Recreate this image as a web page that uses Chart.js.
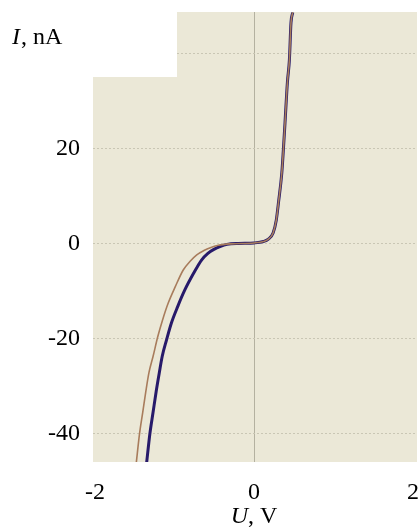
<!DOCTYPE html>
<html>
<head>
<meta charset="utf-8">
<script src="https://cdn.jsdelivr.net/npm/chart.js@4"></script>
<style>
  html, body { margin: 0; padding: 0; background: #fff; }
  canvas { display: block; }
</style>
</head>
<body>
<canvas id="iv-chart" width="419" height="527"></canvas>
<script>
// I-V curve, two measurements (U in V, I in nA)
const blueU = [-1.35, -1.31, -1.27, -1.23, -1.19, -1.155, -1.10, -1.04, -0.96, -0.87, -0.76, -0.66, -0.58, -0.51, -0.42, -0.34, -0.20, 0.00, 0.12, 0.18, 0.24, 0.28, 0.31, 0.35, 0.37, 0.39, 0.42, 0.445, 0.465, 0.487];
const blueI = [-46, -40, -35.5, -31, -27, -23.7, -20.2, -16.7, -13.2, -9.7, -6.2, -3.4, -2.0, -1.2, -0.5, -0.1, 0.1, 0.2, 0.5, 1.0, 2.3, 5.0, 9.0, 15, 20, 25.5, 34, 38.7, 46.5, 48.7];

const brownU = [-1.48, -1.44, -1.40, -1.36, -1.32, -1.27, -1.21, -1.15, -1.08, -0.99, -0.89, -0.80, -0.72, -0.63, -0.55, -0.45, -0.30, 0.00, 0.12, 0.18, 0.24, 0.28, 0.31, 0.35, 0.37, 0.39, 0.42, 0.445, 0.465, 0.487];
const brownI = [-46, -40, -35.5, -31, -27, -23.7, -19.5, -16, -12.5, -9, -5.5, -3.6, -2.3, -1.4, -0.8, -0.3, 0.0, 0.2, 0.5, 1.0, 2.3, 5.0, 9.0, 15, 20, 25.5, 34, 38.7, 46.5, 48.7];

const xTickValues = [-2, 0, 2];
const yTickValues = [-40, -20, 0, 20, 40];
const yTickLabels = ['-40', '-20', '0', '20', ''];

const serif = '"Liberation Serif", "Times New Roman", serif';

const toPoints = (us, is) => us.map((u, k) => ({ x: u, y: is[k] }));

// beige plot area, white notch for the axis title, and the mixed-style titles
const decor = {
  id: 'decor',
  beforeDraw(chart) {
    const { ctx, chartArea: a } = chart;
    ctx.save();
    ctx.fillStyle = '#ebe8d7';
    ctx.fillRect(a.left, a.top, a.right - a.left, a.bottom - a.top);
    ctx.restore();
  },
  beforeDatasetsDraw(chart) {
    const { ctx, chartArea: a } = chart;
    ctx.save();
    ctx.fillStyle = '#fff';
    ctx.fillRect(a.left - 1, a.top - 1, 177 - a.left + 1, 78 - a.top);
    ctx.restore();
  },
  afterDraw(chart) {
    const ctx = chart.ctx;
    ctx.save();
    ctx.fillStyle = '#000';
    ctx.textBaseline = 'alphabetic';
    ctx.textAlign = 'left';
    // y title
    ctx.font = 'italic 24px ' + serif;
    ctx.fillText('I', 12, 44);
    let w = ctx.measureText('I').width;
    ctx.font = '24px ' + serif;
    ctx.fillText(', nA', 12 + w + 1, 44);
    // x title
    ctx.font = 'italic 24px ' + serif;
    const wu = ctx.measureText('U').width;
    ctx.font = '24px ' + serif;
    const wr = ctx.measureText(', V').width;
    const x0 = 254 - (wu + wr) / 2;
    ctx.font = 'italic 24px ' + serif;
    ctx.fillText('U', x0, 523);
    ctx.font = '24px ' + serif;
    ctx.fillText(', V', x0 + wu, 523);
    ctx.restore();
  }
};

const ctx = document.getElementById('iv-chart').getContext('2d');
const ivChart = new Chart(ctx, {
  type: 'scatter',
  data: {
    datasets: [
      {
        label: 'brown',
        data: toPoints(brownU, brownI),
        showLine: true,
        borderColor: '#a87c5c',
        borderWidth: 1.6,
        pointRadius: 0,
        cubicInterpolationMode: 'monotone'
      },
      {
        label: 'blue',
        data: toPoints(blueU, blueI),
        showLine: true,
        borderColor: '#271a6a',
        borderWidth: 3,
        pointRadius: 0,
        cubicInterpolationMode: 'monotone'
      }
    ]
  },
  options: {
    responsive: false,
    animation: false,
    layout: { padding: { top: 12, right: 2, left: 0, bottom: 0 } },
    plugins: {
      legend: { display: false },
      tooltip: { enabled: false }
    },
    scales: {
      x: {
        type: 'linear',
        min: -2.025,
        max: 2.05,
        afterFit: s => { s.height = 65; s.paddingLeft = 0; s.paddingRight = 0; },
        afterBuildTicks: s => { s.ticks = xTickValues.map(v => ({ value: v })); },
        border: { display: false },
        grid: {
          drawTicks: false,
          color: c => (c.tick && c.tick.value === 0 ? '#b4b1a0' : 'rgba(0,0,0,0)'),
          lineWidth: 1
        },
        ticks: {
          padding: 16,
          color: '#000',
          font: { family: serif, size: 24 },
          maxRotation: 0,
          autoSkip: false,
          callback: v => String(v)
        }
      },
      y: {
        type: 'linear',
        min: -45.9,
        max: 48.8,
        afterFit: s => { s.width = 93; s.paddingTop = 0; s.paddingBottom = 0; },
        afterBuildTicks: s => { s.ticks = yTickValues.map(v => ({ value: v })); },
        border: { display: false, dash: [2, 2] },
        grid: {
          drawTicks: false,
          color: '#c9c6b4',
          lineWidth: 1
        },
        ticks: {
          padding: 13,
          color: '#000',
          font: { family: serif, size: 24 },
          autoSkip: false,
          callback: v => yTickLabels[yTickValues.indexOf(v)]
        }
      }
    }
  },
  plugins: [decor]
});
</script>
</body>
</html>
